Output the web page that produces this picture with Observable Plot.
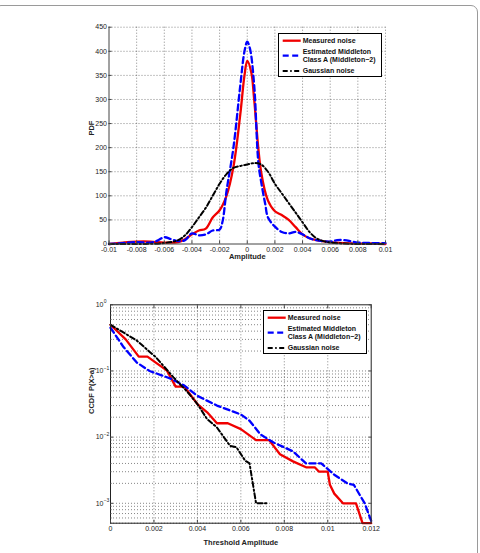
<!DOCTYPE html>
<html>
<head>
<meta charset="utf-8">
<script src="https://cdn.jsdelivr.net/npm/d3@7"></script>
<script src="https://cdn.jsdelivr.net/npm/@observablehq/plot@0.6"></script>
<style>
  body { margin: 0; background: #fff; }
  #page { position: relative; width: 480px; height: 553px; overflow: hidden;
          font-family: "Liberation Sans", Arial, sans-serif; }
  #border { position: absolute; left: -6px; top: 5px; width: 484px; height: 570px;
            border: 1px solid #9a9a9a; border-radius: 7px; box-sizing: border-box; }
  .panel { position: absolute; left: 0; }
  .legend { position: absolute; background: #fff; border: 1px solid #000; box-sizing: border-box; }
</style>
</head>
<body>
<div id="page">
  <div id="border"></div>
  <div id="pdf" class="panel" style="top:0px"></div>
  <div id="ccdf" class="panel" style="top:265px"></div>
</div>
<script>
// ---- Series names and styles ----
const seriesNames = ["Measured noise", "Estimated Middleton\nClass A (Middleton−2)", "Gaussian noise"];
const seriesColors = ["#f00000", "#0000ff", "#000000"];
const seriesDash = [null, "6,3.5", "5,2.5,1.5,2.5"];
const seriesWidth = [2.3, 2.3, 2];

// ---- PDF panel data ----
const measuredPdfX = [-0.01, -0.009, -0.008, -0.007, -0.006, -0.005, -0.0045, -0.004, -0.0035, -0.003, -0.0025, -0.002, -0.0015, -0.001, -0.0005, -0.0002, 0, 0.0003, 0.0005, 0.001, 0.0015, 0.002, 0.0025, 0.003, 0.0035, 0.004, 0.0045, 0.005, 0.006, 0.007, 0.008, 0.009, 0.01];
const measuredPdfY = [0, 3, 5, 5, 3, 4, 10, 20, 28, 32, 55, 70, 100, 160, 270, 350, 380, 355, 300, 150, 90, 68, 60, 50, 35, 20, 12, 8, 4, 2, 1, 1, 0];

const middletonPdfX = [-0.01, -0.009, -0.008, -0.007, -0.0065, -0.006, -0.0055, -0.005, -0.0045, -0.004, -0.0035, -0.003, -0.0025, -0.002, -0.0018, -0.0015, -0.001, -0.0005, -0.0002, 0, 0.0002, 0.0005, 0.0008, 0.001, 0.0013, 0.0015, 0.002, 0.0025, 0.003, 0.0035, 0.004, 0.0045, 0.005, 0.006, 0.0065, 0.007, 0.008, 0.009, 0.01];
const middletonPdfY = [0, 2, 4, 3, 7, 14, 10, 6, 8, 22, 18, 20, 28, 30, 45, 110, 200, 330, 400, 420, 405, 330, 170, 130, 83, 55, 36, 25, 22, 25, 20, 12, 8, 5, 8, 8, 3, 2, 2];

const gaussianPdfX = [-0.01, -0.008, -0.006, -0.005, -0.0045, -0.004, -0.0035, -0.003, -0.0025, -0.002, -0.0015, -0.001, -0.0005, 0, 0.0005, 0.001, 0.0015, 0.002, 0.0025, 0.003, 0.0035, 0.004, 0.0045, 0.005, 0.0055, 0.006, 0.007, 0.008, 0.01];
const gaussianPdfY = [0, 0, 2, 8, 18, 35, 55, 75, 100, 125, 145, 158, 162, 165, 168, 165, 150, 125, 105, 85, 65, 45, 25, 12, 6, 3, 1, 0, 0];

const pdfXDomain = [-0.01, 0.01];
const pdfYDomain = [0, 450];
const pdfXTicks = [-0.01, -0.008, -0.006, -0.004, -0.002, 0, 0.002, 0.004, 0.006, 0.008, 0.01];
const pdfYTicks = [0, 50, 100, 150, 200, 250, 300, 350, 400, 450];

// ---- CCDF panel data ----
const measuredCcdfX = [0, 0.0007, 0.0013, 0.0017, 0.0026, 0.003, 0.0034, 0.004, 0.00445, 0.0049, 0.0054, 0.006, 0.0067, 0.0073, 0.0078, 0.0084, 0.009, 0.0094, 0.0096, 0.01, 0.0101, 0.0103, 0.0107, 0.0113, 0.0116, 0.012];
const measuredCcdfY = [0.5, 0.3, 0.165, 0.165, 0.101, 0.058, 0.058, 0.0316, 0.0237, 0.0162, 0.0162, 0.0132, 0.009, 0.009, 0.0055, 0.0043, 0.0035, 0.0035, 0.003, 0.003, 0.0019, 0.0014, 0.001, 0.001, 0.0005, 0.0005];

const middletonCcdfX = [0, 0.0006, 0.0012, 0.0018, 0.0028, 0.0034, 0.004, 0.0049, 0.006, 0.0064, 0.0069, 0.0075, 0.0084, 0.009, 0.0097, 0.0103, 0.0109, 0.0112, 0.0117, 0.012];
const middletonCcdfY = [0.45, 0.23, 0.135, 0.1, 0.076, 0.06, 0.042, 0.03, 0.022, 0.0177, 0.011, 0.0083, 0.0061, 0.004, 0.004, 0.0027, 0.002, 0.0019, 0.001, 0.00054];

const gaussianCcdfX = [0, 0.0012, 0.0021, 0.0029, 0.0035, 0.004, 0.00445, 0.0049, 0.0055, 0.0058, 0.0062, 0.0064, 0.0067, 0.0072];
const gaussianCcdfY = [0.5, 0.29, 0.16, 0.08, 0.05, 0.0316, 0.0187, 0.014, 0.0074, 0.007, 0.0044, 0.004, 0.001, 0.001];

const ccdfXDomain = [0, 0.012];
const ccdfYDomain = [5e-4, 1];
const ccdfXTicks = [0, 0.002, 0.004, 0.006, 0.008, 0.01, 0.012];
const ccdfDecades = [1, 1e-1, 1e-2, 1e-3];
const ccdfMinorSteps = [2, 3, 4, 5, 6, 7, 8, 9];

// ---- helpers ----
const zip = (xs, ys) => xs.map((x, i) => ({x, y: ys[i]}));
const fmtTick = d => d === 0 ? "0" : String(+d.toFixed(3));
const exponentOf = d => {
  const e = Math.round(Math.log10(d));
  return e < 0 ? "−" + (-e) : String(e);
};
const logMinor = ccdfDecades.map(d => d / 10).flatMap(base => ccdfMinorSteps.map(m => m * base))
  .filter(v => v >= ccdfYDomain[0] && v <= ccdfYDomain[1]);
const logGrid = [...ccdfDecades, ...logMinor];

const fontFamily = "Liberation Sans, Arial, sans-serif";
const gridStyle = {stroke: "#000", strokeOpacity: 0.6, strokeDasharray: "1,2", strokeWidth: 0.8};

function seriesLines(sets, curve) {
  return sets.map((data, i) => Plot.line(data, {
    x: "x", y: "y", curve,
    stroke: seriesColors[i], strokeWidth: seriesWidth[i],
    strokeDasharray: seriesDash[i], strokeLinejoin: "round"
  }));
}

// ---- PDF chart ----
const pdfPlot = Plot.plot({
  width: 480, height: 265,
  marginLeft: 108.5, marginRight: 95, marginTop: 26.7, marginBottom: 21.5,
  style: {fontFamily, fontSize: "7px", color: "#222", background: "transparent", overflow: "visible"},
  x: {type: "linear", domain: pdfXDomain},
  y: {type: "linear", domain: pdfYDomain},
  marks: [
    Plot.gridX(pdfXTicks.slice(1), gridStyle),
    Plot.gridY(pdfYTicks.slice(1), gridStyle),
    ...seriesLines([zip(measuredPdfX, measuredPdfY), zip(middletonPdfX, middletonPdfY), zip(gaussianPdfX, gaussianPdfY)], "catmull-rom"),
    Plot.ruleX([pdfXDomain[0]], {stroke: "#444", strokeWidth: 1}),
    Plot.ruleY([pdfYDomain[0]], {stroke: "#444", strokeWidth: 1}),
    Plot.axisX(pdfXTicks, {tickSize: -3, tickPadding: 6, tickFormat: fmtTick, label: null, stroke: "#444"}),
    Plot.axisY(pdfYTicks, {tickSize: -3, tickPadding: 5, tickFormat: d => String(d), label: null, stroke: "#444"}),
    Plot.text(["Amplitude"], {text: d => d, frameAnchor: "bottom", dy: 14.5, fontWeight: "bold", fontSize: 7.5}),
    Plot.text(["PDF"], {text: d => d, frameAnchor: "left", dx: -17, rotate: -90, fontWeight: "bold", fontSize: 7.5})
  ]
});
document.getElementById("pdf").append(pdfPlot);

// ---- CCDF chart ----
const ccdfPlot = Plot.plot({
  width: 480, height: 288,
  marginLeft: 110, marginRight: 109.3, marginTop: 39.3, marginBottom: 30.3,
  style: {fontFamily, fontSize: "7px", color: "#222", background: "transparent", overflow: "visible"},
  x: {type: "linear", domain: ccdfXDomain},
  y: {type: "log", domain: ccdfYDomain},
  marks: [
    Plot.gridX(ccdfXTicks.slice(1, -1), gridStyle),
    Plot.gridY(logGrid.filter(v => v < 1), gridStyle),
    ...seriesLines([zip(measuredCcdfX, measuredCcdfY), zip(middletonCcdfX, middletonCcdfY), zip(gaussianCcdfX, gaussianCcdfY)], "linear"),
    Plot.frame({stroke: "#222", strokeWidth: 1}),
    Plot.axisX(ccdfXTicks, {tickSize: -3, tickPadding: 6, tickFormat: fmtTick, label: null, stroke: "#444"}),
    Plot.axisX(ccdfXTicks, {anchor: "top", tickSize: -3, tickFormat: () => "", label: null, stroke: "#444"}),
    // decade labels: base "10" from the axis, exponent as a raised smaller text
    Plot.axisY(ccdfDecades, {tickSize: -3, tickPadding: 10, tickFormat: () => "10", label: null, stroke: "#444"}),
    Plot.text(ccdfDecades, {y: d => d, text: exponentOf, frameAnchor: "left", textAnchor: "start",
                            dx: -6.8, dy: -3, fontSize: 5, fill: "#222"}),
    Plot.axisY(logMinor, {tickSize: -1.5, tickFormat: () => "", label: null, stroke: "#444"}),
    Plot.axisY(ccdfDecades, {anchor: "right", tickSize: -3, tickFormat: () => "", label: null, stroke: "#444"}),
    Plot.text(["Threshold Amplitude"], {text: d => d, frameAnchor: "bottom", dy: 22, fontWeight: "bold", fontSize: 7.5}),
    Plot.text(["CCDF P(X>a)"], {text: d => d, frameAnchor: "left", dx: -19, rotate: -90, fontWeight: "bold", fontSize: 7.5})
  ]
});
document.getElementById("ccdf").append(ccdfPlot);

// ---- legends ----
function addLegend(left, top) {
  const w = 104, h = 44;
  const box = d3.select("#page").append("div").attr("class", "legend")
    .style("left", left + "px").style("top", top + "px")
    .style("width", w + "px").style("height", h + "px");
  const svg = box.append("svg").attr("width", w).attr("height", h)
    .style("position", "absolute").style("left", "-1px").style("top", "-1px");
  const rowY = [7.7, 22.7, 38];
  seriesNames.forEach((name, i) => {
    svg.append("line").attr("x1", 4.7).attr("x2", 22.7).attr("y1", rowY[i]).attr("y2", rowY[i])
      .attr("stroke", seriesColors[i]).attr("stroke-width", seriesWidth[i])
      .attr("stroke-dasharray", seriesDash[i]);
    const lines = name.split("\n");
    lines.forEach((t, j) => {
      svg.append("text").attr("x", 24.7)
        .attr("y", rowY[i] + (j - (lines.length - 1) / 2) * 7.6)
        .attr("dy", "0.35em")
        .attr("font-family", fontFamily).attr("font-size", 7).attr("font-weight", "bold")
        .attr("fill", "#111").text(t);
    });
  });
}
addLegend(278, 33);
addLegend(263, 310);
</script>
</body>
</html>
